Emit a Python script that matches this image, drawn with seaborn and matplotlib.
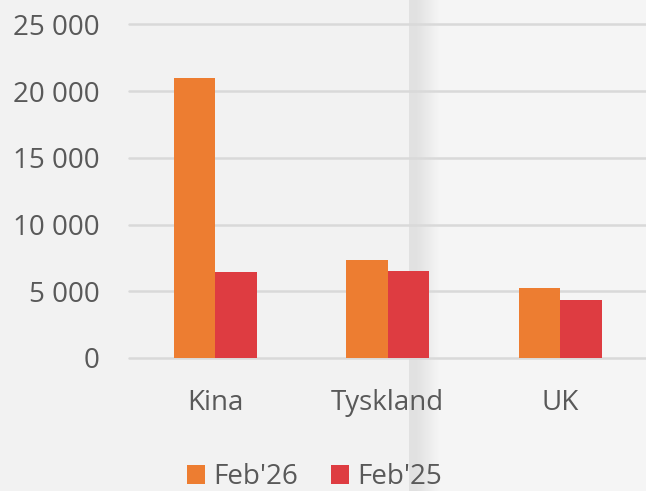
import pandas as pd
import numpy as np
import matplotlib
matplotlib.use("Agg")
import matplotlib.pyplot as plt
import seaborn as sns
from matplotlib.patches import Rectangle
from matplotlib.ticker import FuncFormatter

# chart data
countries = ["Kina", "Tyskland", "UK"]
periods = ["Feb'26", "Feb'25"]
feb26 = [21000, 7380, 5250]
feb25 = [6480, 6550, 4340]

colors = ["#ED7D31", "#DE3C41"]
text_col = "#595959"

df = pd.DataFrame({
    "Land": countries * 2,
    "Periode": [periods[0]] * 3 + [periods[1]] * 3,
    "Verdi": feb26 + feb25,
})

sns.set_style("white")
plt.rcParams["font.family"] = ["Open Sans", "DejaVu Sans"]

fig = plt.figure(figsize=(6.46, 4.91), dpi=100)
fig.patch.set_facecolor("#f2f2f2")

# background: slightly lighter right part with a vertical shadow band
W, H = 646.0, 491.0
fig.patches.append(Rectangle((410 / W, 0), 1, 1, transform=fig.transFigure,
                             facecolor="#f5f5f5", edgecolor="none", zorder=-10))
fig.patches.append(Rectangle((409 / W, 0), 8 / W, 1, transform=fig.transFigure,
                             facecolor="#e1e1e1", edgecolor="none", zorder=-9))
for i in range(23):
    g = 0.885 + (0.961 - 0.885) * i / 22
    fig.patches.append(Rectangle(((417 + i) / W, 0), 1.2 / W, 1,
                                 transform=fig.transFigure,
                                 facecolor=(g, g, g), edgecolor="none", zorder=-9))

ax = fig.add_axes([129 / W, 1 - 358 / H, 517.5 / W, (358 - 24.5) / H])
ax.set_facecolor("none")

sns.barplot(data=df, x="Land", y="Verdi", hue="Periode", palette=colors,
            width=0.48, gap=0, saturation=1, ax=ax, zorder=3,
            edgecolor="none", linewidth=0)

ax.set_xlim(-0.5, 2.5)
ax.set_ylim(0, 25000)
ax.set_yticks(range(0, 25001, 5000))
ax.yaxis.set_major_formatter(FuncFormatter(lambda v, p: f"{int(v):,}".replace(",", " ")))
ax.grid(axis="y", color="#d9d9d9", linewidth=1.8, zorder=0)
for gl in ax.get_ygridlines():
    gl.set_clip_on(False)
ax.set_axisbelow(True)
for s in ax.spines.values():
    s.set_visible(False)
ax.tick_params(axis="y", length=0, pad=21, labelsize=20, labelcolor=text_col)
ax.tick_params(axis="x", length=0, pad=22, labelsize=20, labelcolor=text_col)
ax.set_xlabel("")
ax.set_ylabel("")

ax.get_legend().remove()
handles = [Rectangle((0, 0), 1, 1, facecolor=c, edgecolor="none") for c in colors]
leg = fig.legend(handles, periods, loc="center", bbox_to_anchor=(0.487, 1 - 477 / H),
                 ncol=2, frameon=False, fontsize=20, handlelength=0.65,
                 handleheight=0.65, handletextpad=0.3, columnspacing=1.2)
for t in leg.get_texts():
    t.set_color(text_col)

fig.savefig("out.png", dpi=100, facecolor=fig.get_facecolor())
